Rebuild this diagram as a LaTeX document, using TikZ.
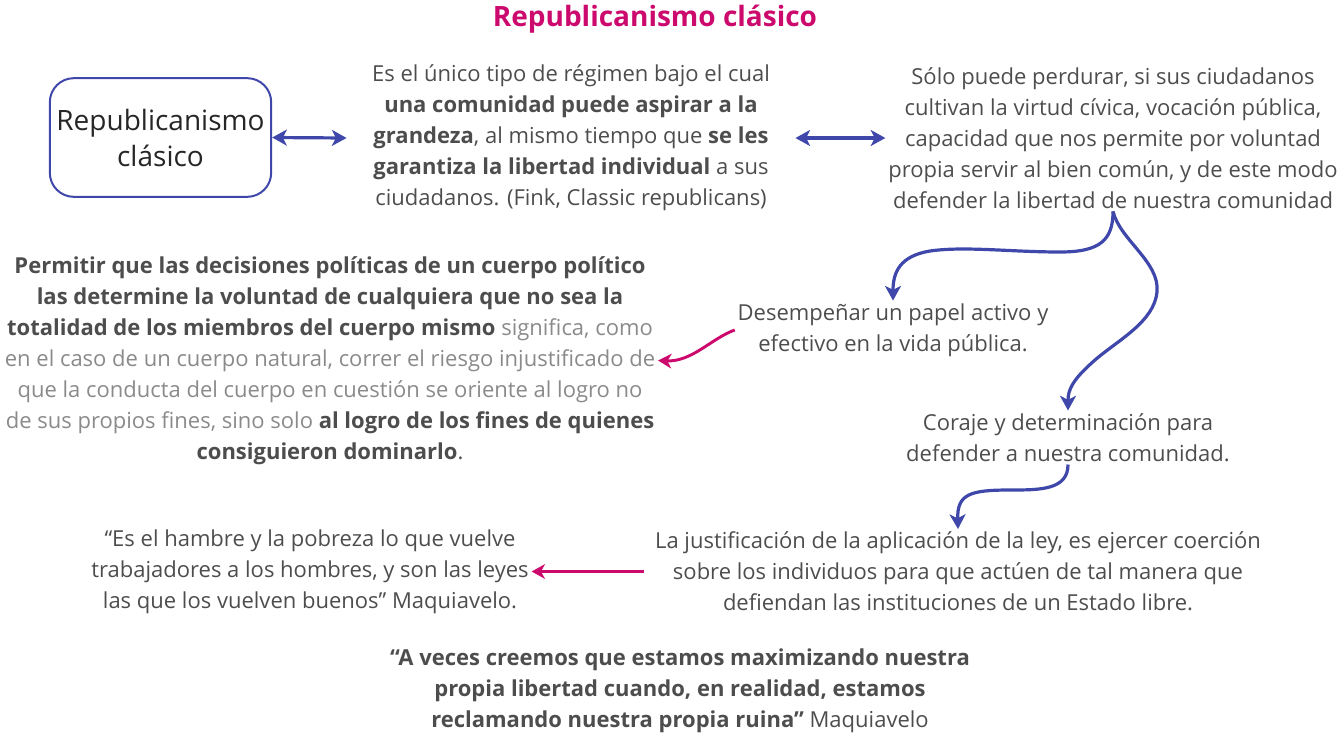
\documentclass[tikz,border=0pt]{standalone}
\usepackage{fontspec}
\setmainfont{Open Sans}
\usepackage{tikz}
\usetikzlibrary{arrows.meta}
\usepackage{xcolor}
\definecolor{titlemagenta}{HTML}{CC0A6E}
\definecolor{linkblue}{HTML}{3F48AA}
\definecolor{textgray}{HTML}{4D4D4D}
\definecolor{softgray}{HTML}{8A8A8A}

\begin{document}
\begin{tikzpicture}[x=0.75pt,y=-0.75pt]

\tikzset{
idea/.style={
align=center,
text=textgray,
inner sep=2pt,
font=\fontsize{16.5}{23.25}\selectfont
},
conceptbox/.style={
draw=linkblue,
line width=1.5pt,
rounded corners=18pt,
minimum width=166pt,
minimum height=89pt,
align=center,
text=black!85,
font=\fontsize{21}{27}\selectfont
},
bluelink/.style={
draw=linkblue,
line width=2.4pt,
-{Stealth[length=11pt,width=12pt,inset=3pt]}
},
bothlink/.style={
draw=linkblue,
line width=2.4pt,
{Stealth[length=11pt,width=12pt,inset=3pt]}-{Stealth[length=11pt,width=12pt,inset=3pt]}
},
pinklink/.style={
draw=titlemagenta,
line width=2.2pt,
-{Stealth[length=10pt,width=11pt,inset=3pt]}
}
}

\useasboundingbox (0,0) rectangle (1344,743);

%--------------------------------------------------
% TITLE
%--------------------------------------------------

\node[font=\fontsize{21}{25}\selectfont\bfseries,text=titlemagenta]
(title) at (655,19) {Republicanismo clásico};

%--------------------------------------------------
% TOP ROW
%--------------------------------------------------

\node[conceptbox] (box) at (160.5,137.5) {Republicanismo\\clásico};

\node[idea] (regimen) at (571,138)
{Es el único tipo de régimen bajo el cual\\
\textbf{una comunidad puede aspirar a la}\\
\textbf{grandeza}, al mismo tiempo que \textbf{se les}\\
\textbf{garantiza la libertad individual} a sus\\
ciudadanos. (Fink, Classic republicans)};

\node[idea] (virtud) at (1113,138)
{Sólo puede perdurar, si sus ciudadanos\\
cultivan la virtud cívica, vocación pública,\\
capacidad que nos permite por voluntad\\
propia servir al bien común, y de este modo\\
defender la libertad de nuestra comunidad};

%--------------------------------------------------
% MIDDLE
%--------------------------------------------------

\node[idea] (riesgo) at (330,360.5)
{\textbf{Permitir que las decisiones políticas de un cuerpo político}\\
\textbf{las determine la voluntad de cualquiera que no sea la}\\
\textbf{totalidad de los miembros del cuerpo mismo} \textcolor{softgray}{significa, como}\\
\textcolor{softgray}{en el caso de un cuerpo natural, correr el riesgo injustificado de}\\
\textcolor{softgray}{que la conducta del cuerpo en cuestión se oriente al logro no}\\
\textcolor{softgray}{de sus propios fines, sino solo} \textbf{al logro de los fines de quienes}\\
\textbf{consiguieron dominarlo}.};

\node[idea] (papel) at (893,330)
{Desempeñar un papel activo y\\
efectivo en la vida pública.};

\node[idea] (coraje) at (1068,437.5)
{Coraje y determinación para\\
defender a nuestra comunidad.};

%--------------------------------------------------
% LOWER ROW
%--------------------------------------------------

\node[idea] (coercion) at (958,571.5)
{La justificación de la aplicación de la ley, es ejercer coerción\\
sobre los individuos para que actúen de tal manera que\\
defiendan las instituciones de un Estado libre.};

\node[idea] (hambre) at (310,571.5)
{“Es el hambre y la pobreza lo que vuelve\\
trabajadores a los hombres, y son las leyes\\
las que los vuelven buenos” Maquiavelo.};

\node[idea] (ruina) at (680,690.5)
{\textbf{“A veces creemos que estamos maximizando nuestra}\\
\textbf{propia libertad cuando, en realidad, estamos}\\
\textbf{reclamando nuestra propia ruina”} Maquiavelo};

%--------------------------------------------------
% CONNECTORS
%--------------------------------------------------

\draw[bothlink] (box.east) -- ([xshift=-17pt]regimen.west);
\draw[bothlink] ([xshift=17pt]regimen.east) -- (virtud.west);

\draw[bluelink] (virtud.south)
.. controls (1113,240) and (1100,252) .. (1060,252)
.. controls (1010,252) and (965,246) .. (930,251)
.. controls (900,256) and (893,272) .. (papel.north);

\draw[bluelink] (virtud.south)
.. controls (1120,240) and (1160,262) .. (1157,292)
.. controls (1154,322) and (1118,340) .. (1095,360)
.. controls (1072,380) and (1068,390) .. (coraje.north);

\draw[pinklink] (papel.west)
.. controls (712,338) and (692,362) .. (riesgo.east);

\draw[bluelink] (coraje.south)
.. controls (1068,490) and (1040,490) .. (1010,490)
.. controls (970,490) and (957,494) .. (coercion.north);

\draw[pinklink] ([xshift=-6pt]coercion.west) -- (hambre.east);

\end{tikzpicture}
\end{document}
